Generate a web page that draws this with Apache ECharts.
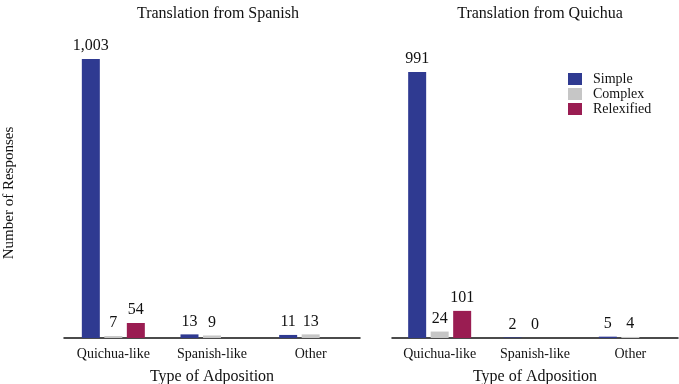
<!DOCTYPE html>
<html><head><meta charset="utf-8">
<script src="https://cdn.jsdelivr.net/npm/echarts@6/dist/echarts.min.js"></script>
<style>html,body{margin:0;padding:0;background:#fff}#c{width:679px;height:384px}</style>
</head><body><div id="c"></div>
<script>
const categories = ['Quichua-like', 'Spanish-like', 'Other'];
const seriesNames = ['Simple', 'Complex', 'Relexified'];
const spanishSimple = [1003, 13, 11];
const spanishComplex = [7, 9, 13];
const spanishRelexified = [54, null, null];
const quichuaSimple = [991, 2, 5];
const quichuaComplex = [24, 0, 4];
const quichuaRelexified = [101, null, null];
const panelTitles = ['Translation from Spanish', 'Translation from Quichua'];

const colors = ['#2f3a91', '#c6c6c6', '#9a1d52'];
const FONT = '"Liberation Serif", "DejaVu Serif", serif';
const chart = echarts.init(document.getElementById('c'));
const fmt = p => p.value == null ? '' : Number(p.value).toLocaleString('en-US');

function mk(name, data, idx, color) {
  return {
    name, type: 'bar', data, xAxisIndex: idx, yAxisIndex: idx,
    barWidth: 18, barGap: '25%',
    itemStyle: { color },
    label: { show: true, position: 'top', distance: 5, formatter: fmt,
      fontFamily: FONT, fontSize: 16, color: '#111' }
  };
}
const xa = (idx) => ({
  type: 'category', gridIndex: idx, data: categories,
  axisLine: { lineStyle: { color: '#111', width: 1.5 } },
  axisTick: { show: false },
  axisLabel: { fontFamily: FONT, fontSize: 14, color: '#111', margin: 9 },
  name: 'Type of Adposition', nameLocation: 'middle', nameGap: 31,
  nameTextStyle: { fontFamily: FONT, fontSize: 16, color: '#111' }
});
const ya = (idx, max) => ({ type: 'value', gridIndex: idx, min: 0, max, show: false, splitLine: { show: false } });

chart.setOption({
  animation: false,
  title: [
    { text: panelTitles[0], left: 213, top: 1, textAlign: 'center',
      textStyle: { fontFamily: FONT, fontSize: 16, fontWeight: 'normal', color: '#111' } },
    { text: panelTitles[1], left: 535, top: 1, textAlign: 'center',
      textStyle: { fontFamily: FONT, fontSize: 16, fontWeight: 'normal', color: '#111' } }
  ],
  legend: {
    data: seriesNames, orient: 'vertical', left: 568, top: 72, padding: 0,
    itemWidth: 14, itemHeight: 12, itemGap: 1, icon: 'rect',
    textStyle: { fontFamily: FONT, fontSize: 14, lineHeight: 14, color: '#111', padding: [0, 0, 0, 6] }
  },
  grid: [
    { left: 64, width: 296, top: 40, height: 298, outerBoundsMode: 'none', containLabel: false },
    { left: 392, width: 286, top: 40, height: 298, outerBoundsMode: 'none', containLabel: false }
  ],
  xAxis: [xa(0), xa(1)],
  yAxis: [ya(0, 1071), ya(1, 1110)],
  graphic: [{
    type: 'text', rotation: Math.PI / 2, originX: 0, originY: 0,
    x: 2, y: 193,
    style: { text: 'Number of Responses', fontFamily: FONT, fontSize: 15, fill: '#111',
      textAlign: 'center', textVerticalAlign: 'top' }
  }],
  series: [
    mk(seriesNames[0], spanishSimple, 0, colors[0]),
    mk(seriesNames[1], spanishComplex, 0, colors[1]),
    mk(seriesNames[2], spanishRelexified, 0, colors[2]),
    mk(seriesNames[0], quichuaSimple, 1, colors[0]),
    mk(seriesNames[1], quichuaComplex, 1, colors[1]),
    mk(seriesNames[2], quichuaRelexified, 1, colors[2])
  ]
});
</script></body></html>
